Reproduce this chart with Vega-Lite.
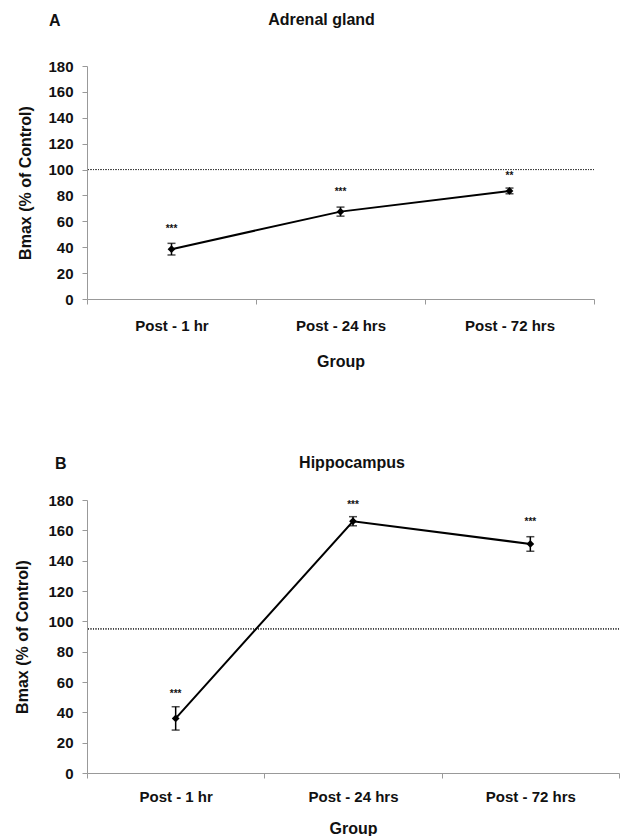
{
  "$schema": "https://vega.github.io/schema/vega-lite/v6.json",
  "padding": {"left": 14, "top": 12, "right": 0, "bottom": 0},
  "background": "white",
  "config": {
    "font": "Liberation Sans",
    "view": {"stroke": null},
    "axis": {
      "grid": false,
      "labelFont": "Liberation Sans",
      "labelFontSize": 15,
      "labelFontWeight": "bold",
      "labelColor": "#111",
      "titleFont": "Liberation Sans",
      "titleFontSize": 16,
      "titleFontWeight": "bold",
      "titleColor": "#111",
      "domainColor": "#999",
      "tickColor": "#999",
      "tickSize": 5,
      "labelOverlap": false,
      "labelBound": false
    },
    "title": {"font": "Liberation Sans", "fontSize": 16, "fontWeight": "bold", "color": "#111"}
  },
  "spacing": 86,
  "vconcat": [
    {
      "title": {"text": "A", "anchor": "start", "frame": "bounds", "dx": 31, "offset": -17},
      "vconcat": [
        {
          "title": {"text": "Adrenal gland", "anchor": "middle", "frame": "group", "dx": -19, "dy": -28, "offset": 3},
          "width": 507,
          "height": 233,
          "data": {"values": [
            {"group": "Post - 1 hr", "mean": 38.5, "err": 4.5, "sig": "***", "sigY": 54},
            {"group": "Post - 24 hrs", "mean": 67.5, "err": 3.5, "sig": "***", "sigY": 83},
            {"group": "Post - 72 hrs", "mean": 83.5, "err": 2.2, "sig": "**", "sigY": 95}
          ]},
          "encoding": {
            "x": {"field": "group", "type": "nominal", "sort": null,
              "scale": {"paddingInner": 0, "paddingOuter": 0},
              "axis": {"title": "Group", "labelAngle": 0, "tickBand": "extent", "labelPadding": 14, "titlePadding": 20}}
          },
          "layer": [
            {"mark": {"type": "rule", "strokeDash": [1, 1.5], "color": "#333", "strokeWidth": 1},
             "encoding": {"x": null, "y": {"datum": 100, "type": "quantitative", "title": "Bmax (% of Control)",
               "scale": {"domain": [0, 180], "nice": false},
               "axis": {"values": [0, 20, 40, 60, 80, 100, 120, 140, 160, 180], "labelPadding": 9, "titlePadding": 14}}}},
            {"mark": {"type": "line", "color": "black", "strokeWidth": 2},
             "encoding": {"y": {"field": "mean", "type": "quantitative", "title": "Bmax (% of Control)",
               "axis": {"values": [0, 20, 40, 60, 80, 100, 120, 140, 160, 180], "labelPadding": 9, "titlePadding": 14}}}},
            {"mark": {"type": "errorbar", "ticks": true, "color": "black", "thickness": 1.5, "size": 8},
             "encoding": {"y": {"field": "mean", "type": "quantitative", "title": "Bmax (% of Control)",
               "axis": {"values": [0, 20, 40, 60, 80, 100, 120, 140, 160, 180], "labelPadding": 9, "titlePadding": 14}}, "yError": {"field": "err"}}},
            {"mark": {"type": "point", "shape": "diamond", "filled": true, "color": "black", "size": 60, "opacity": 1},
             "encoding": {"y": {"field": "mean", "type": "quantitative", "title": "Bmax (% of Control)",
               "axis": {"values": [0, 20, 40, 60, 80, 100, 120, 140, 160, 180], "labelPadding": 9, "titlePadding": 14}}}},
            {"mark": {"type": "text", "fontSize": 10, "fontWeight": "bold", "color": "#111", "baseline": "middle"},
             "encoding": {"y": {"field": "sigY", "type": "quantitative", "title": "Bmax (% of Control)",
               "axis": {"values": [0, 20, 40, 60, 80, 100, 120, 140, 160, 180], "labelPadding": 9, "titlePadding": 14}}, "text": {"field": "sig"}}}
          ]
        }
      ]
    },
    {
      "title": {"text": "B", "anchor": "start", "frame": "bounds", "dx": 40, "offset": -17},
      "vconcat": [
        {
          "title": {"text": "Hippocampus", "anchor": "middle", "frame": "group", "dx": -1, "dy": -24, "offset": -2},
          "width": 532,
          "height": 273,
          "data": {"values": [
            {"group": "Post - 1 hr", "mean": 36, "err": 7.7, "sig": "***", "sigY": 52},
            {"group": "Post - 24 hrs", "mean": 166, "err": 3, "sig": "***", "sigY": 176.5},
            {"group": "Post - 72 hrs", "mean": 151, "err": 4.8, "sig": "***", "sigY": 165.5}
          ]},
          "encoding": {
            "x": {"field": "group", "type": "nominal", "sort": null,
              "scale": {"paddingInner": 0, "paddingOuter": 0},
              "axis": {"title": "Group", "labelAngle": 0, "tickBand": "extent", "labelPadding": 11, "titlePadding": 16}}
          },
          "layer": [
            {"mark": {"type": "rule", "strokeDash": [1, 1.5], "color": "#333", "strokeWidth": 1},
             "encoding": {"x": null, "y": {"datum": 95, "type": "quantitative", "title": "Bmax (% of Control)",
               "scale": {"domain": [0, 180], "nice": false},
               "axis": {"values": [0, 20, 40, 60, 80, 100, 120, 140, 160, 180], "labelPadding": 9, "titlePadding": 17}}}},
            {"mark": {"type": "line", "color": "black", "strokeWidth": 2},
             "encoding": {"y": {"field": "mean", "type": "quantitative", "title": "Bmax (% of Control)",
               "axis": {"values": [0, 20, 40, 60, 80, 100, 120, 140, 160, 180], "labelPadding": 9, "titlePadding": 17}}}},
            {"mark": {"type": "errorbar", "ticks": true, "color": "black", "thickness": 1.5, "size": 8},
             "encoding": {"y": {"field": "mean", "type": "quantitative", "title": "Bmax (% of Control)",
               "axis": {"values": [0, 20, 40, 60, 80, 100, 120, 140, 160, 180], "labelPadding": 9, "titlePadding": 17}}, "yError": {"field": "err"}}},
            {"mark": {"type": "point", "shape": "diamond", "filled": true, "color": "black", "size": 60, "opacity": 1},
             "encoding": {"y": {"field": "mean", "type": "quantitative", "title": "Bmax (% of Control)",
               "axis": {"values": [0, 20, 40, 60, 80, 100, 120, 140, 160, 180], "labelPadding": 9, "titlePadding": 17}}}},
            {"mark": {"type": "text", "fontSize": 10, "fontWeight": "bold", "color": "#111", "baseline": "middle"},
             "encoding": {"y": {"field": "sigY", "type": "quantitative", "title": "Bmax (% of Control)",
               "axis": {"values": [0, 20, 40, 60, 80, 100, 120, 140, 160, 180], "labelPadding": 9, "titlePadding": 17}}, "text": {"field": "sig"}}}
          ]
        }
      ]
    }
  ]
}
